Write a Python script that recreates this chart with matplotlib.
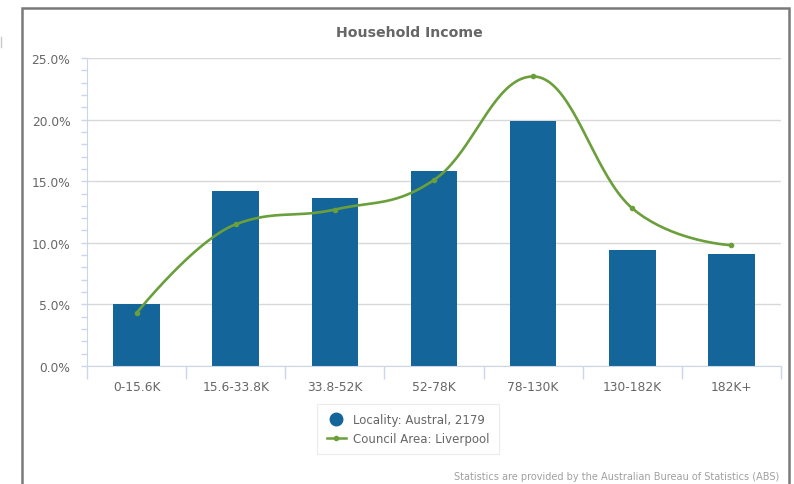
import numpy as np
import matplotlib.pyplot as plt
from matplotlib.lines import Line2D
from matplotlib.patches import Rectangle

# Data (percent of households)
categories = ['0-15.6K', '15.6-33.8K', '33.8-52K', '52-78K', '78-130K', '130-182K', '182K+']
locality = [5.0, 14.2, 13.6, 15.8, 19.9, 9.4, 9.1]
council = [4.3, 11.5, 12.7, 15.1, 23.5, 12.8, 9.8]

bar_color = '#13659a'
line_color = '#6a9f3b'
text_color = '#666666'
grid_color = '#d8d8d8'


# Spline like highcharts does it (smoothing 1.5, cubic bezier segments)
def spline_curve(xs, ys, n=40):
    xs = np.asarray(xs, float)
    ys = np.asarray(ys, float)
    k = len(xs)
    lcx, lcy = xs.copy(), ys.copy()
    rcx, rcy = xs.copy(), ys.copy()
    sm, den = 1.5, 2.5
    for i in range(1, k - 1):
        x, y = xs[i], ys[i]
        lx, ly = xs[i - 1], ys[i - 1]
        nx, ny = xs[i + 1], ys[i + 1]
        a_x, a_y = (sm * x + lx) / den, (sm * y + ly) / den
        b_x, b_y = (sm * x + nx) / den, (sm * y + ny) / den
        corr = (b_y - a_y) * (b_x - x) / (b_x - a_x) + y - b_y
        a_y += corr
        b_y += corr
        if a_y > ly and a_y > y:
            a_y = max(ly, y)
            b_y = 2 * y - a_y
        elif a_y < ly and a_y < y:
            a_y = min(ly, y)
            b_y = 2 * y - a_y
        if b_y > ny and b_y > y:
            b_y = max(ny, y)
            a_y = 2 * y - b_y
        elif b_y < ny and b_y < y:
            b_y = min(ny, y)
            a_y = 2 * y - b_y
        lcx[i], lcy[i] = a_x, a_y
        rcx[i], rcy[i] = b_x, b_y
    t = np.linspace(0, 1, n)[:, None]
    out = []
    for i in range(k - 1):
        p0 = np.array([xs[i], ys[i]])
        p1 = np.array([rcx[i], rcy[i]])
        p2 = np.array([lcx[i + 1], lcy[i + 1]])
        p3 = np.array([xs[i + 1], ys[i + 1]])
        seg = ((1 - t) ** 3) * p0 + 3 * ((1 - t) ** 2) * t * p1 + 3 * (1 - t) * t ** 2 * p2 + t ** 3 * p3
        out.append(seg)
    pts = np.vstack(out)
    return pts[:, 0], pts[:, 1]


fig = plt.figure(figsize=(7.94, 4.85), dpi=100)
ax = fig.add_axes([87 / 794, 1 - 367 / 485, (781 - 87) / 794, (367 - 59) / 485])

x = np.arange(len(categories))
ax.bar(x, locality, width=0.47, color=bar_color, zorder=2)

sx, sy = spline_curve(x, council)
ax.plot(sx, sy, color=line_color, lw=1.9, zorder=3)
ax.plot(x, council, 'o', color=line_color, ms=3, zorder=4)

ax.set_xlim(-0.5, len(categories) - 0.5)
ax.set_ylim(0, 25)
ax.set_yticks(np.arange(0, 26, 5))
ax.set_yticklabels([f'{v:.1f}%' for v in np.arange(0, 26, 5)])
ax.set_yticks(np.arange(0, 26, 1), minor=True)
ax.yaxis.grid(True, color=grid_color, lw=1, zorder=0)
ax.set_axisbelow(True)

ax.set_xticks(x)
ax.set_xticklabels(categories)
ax.set_xticks(np.arange(-0.5, len(categories), 1), minor=True)
ax.tick_params(axis='x', which='major', length=0, pad=10, labelsize=8.8, labelcolor=text_color)
ax.tick_params(axis='x', which='minor', length=9, color='#ccd6eb', width=1)
ax.tick_params(axis='y', which='both', length=4, color='#ccd6eb', width=1)
ax.tick_params(axis='y', which='major', labelsize=8.8, labelcolor=text_color, pad=8)

for s in ['top', 'right']:
    ax.spines[s].set_visible(False)
ax.spines['left'].set_color('#ccd6eb')
ax.spines['bottom'].set_color('#ccd6eb')

# Title and footer
fig.text(409 / 794, 1 - 33 / 485, 'Household Income', ha='center', va='center',
         fontsize=10.2, fontweight='bold', color=text_color)
fig.text(779 / 794, 1 - 477 / 485,
         'Statistics are provided by the Australian Bureau of Statistics (ABS)',
         ha='right', va='center', fontsize=7, color='#a0a0a0')

# Legend
handles = [
    Line2D([], [], ls='none', marker='o', ms=9, color=bar_color),
    Line2D([], [], color=line_color, lw=1.8, marker='o', ms=3),
]
leg = fig.legend(handles, ['Locality: Austral, 2179', 'Council Area: Liverpool'],
                 loc='center', bbox_to_anchor=(408 / 794, 1 - 430 / 485),
                 frameon=True, fontsize=8.5, handlelength=1.6, handletextpad=0.6,
                 labelspacing=0.45, borderpad=0.8, fancybox=False, labelcolor=text_color)
leg.get_frame().set_edgecolor('#e6e6e6')
leg.get_frame().set_linewidth(0.8)

# Outer chart border
fig.patches.append(Rectangle((22 / 794, -0.05), (789 - 22) / 794, 1.05 - 9 / 485,
                             transform=fig.transFigure, fill=False,
                             edgecolor='#7a7a7a', lw=1.8))
fig.lines.append(Line2D([0.5 / 794, 0.5 / 794], [1 - 38 / 485, 1 - 48 / 485],
                        transform=fig.transFigure, color='#c8c8c8', lw=1))

fig.savefig('out.png', dpi=100)
